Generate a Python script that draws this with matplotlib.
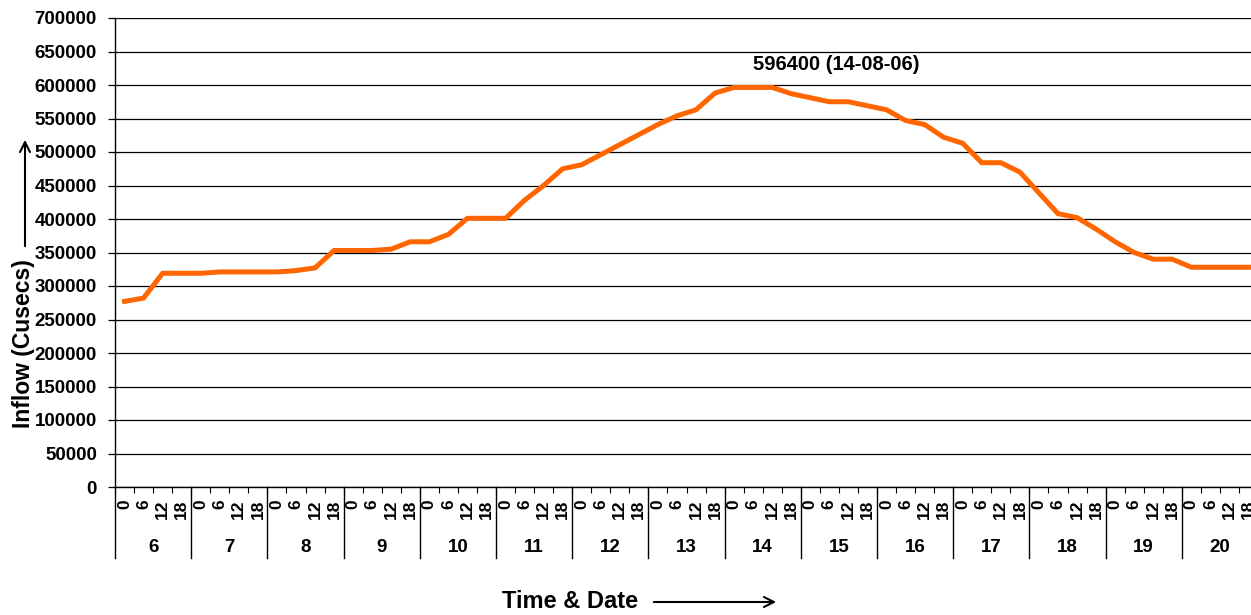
import numpy as np
import matplotlib.pyplot as plt

plt.rcParams['font.family'] = ['Liberation Sans', 'DejaVu Sans']
plt.rcParams['font.weight'] = 'bold'

# dates (Aug 2006) and hours of observation
days = [6, 7, 8, 9, 10, 11, 12, 13, 14, 15, 16, 17, 18, 19, 20]
hours = [0, 6, 12, 18]

# inflow in cusecs, one value every 6 hours
inflow = [
    277000, 282000, 319000, 319000,   # 6
    319000, 321000, 321000, 321000,   # 7
    321000, 323000, 327000, 353000,   # 8
    353000, 353000, 355000, 366000,   # 9
    366000, 377000, 401000, 401000,   # 10
    401000, 428000, 450000, 475000,   # 11
    481000, 496000, 511000, 526000,   # 12
    541000, 554000, 563000, 588000,   # 13
    596400, 596400, 596400, 587000,   # 14
    581000, 575000, 575000, 569000,   # 15
    563000, 547000, 541000, 522000,   # 16
    513000, 484000, 484000, 470000,   # 17
    439000, 408000, 402000, 385000,   # 18
    366000, 350000, 340000, 340000,   # 19
    328000, 328000, 328000, 328000,   # 20
]
peak_label = '596400 (14-08-06)'

fig = plt.figure(figsize=(12.51, 6.15), dpi=100)
W, H = 1251, 615
# plot area in pixels: left 115, right 1258 (clipped by the figure), top 18, bottom 487
ax = fig.add_axes([115 / W, 1 - 487 / H, 1143 / W, 469 / H])

n = len(inflow)
x = np.arange(n) + 0.5
ax.plot(x, inflow, color='#FF6600', lw=3.6, solid_joinstyle='miter')

ax.set_xlim(0, n)
ax.set_ylim(0, 700000)
ax.set_yticks(np.arange(0, 700001, 50000))
ax.yaxis.grid(True, color='black', lw=0.9)
ax.set_axisbelow(True)
ax.tick_params(axis='y', labelsize=13.5, length=5, width=0.9, pad=8)
for t in ax.get_yticklabels():
    t.set_fontweight('bold')

for s in ['top', 'right']:
    ax.spines[s].set_visible(False)
ax.spines['left'].set_linewidth(1.0)
ax.spines['bottom'].set_linewidth(1.0)

# category boundaries as small ticks, hour labels at centres
ax.set_xticks(np.arange(n + 1))
ax.set_xticklabels([])
ax.tick_params(axis='x', which='major', length=4, width=0.8)
ax.set_xticks(x, minor=True)
ax.set_xticklabels([str(h) for d in days for h in hours], minor=True,
                   rotation=90, fontsize=12.5, fontweight='bold')
ax.tick_params(axis='x', which='minor', length=0, pad=9)

# day separators and day labels
tr = ax.get_xaxis_transform()
for i in range(len(days) + 1):
    ax.plot([4 * i, 4 * i], [0, -0.151], color='black', lw=1.0,
            transform=tr, clip_on=False)
for i, d in enumerate(days):
    ax.text(4 * i + 2, -0.128, str(d), transform=tr, ha='center', va='center',
            fontsize=13.5, fontweight='bold')

# peak annotation
ax.text(37.85, 630000, peak_label, ha='center', va='center',
        fontsize=14.5, fontweight='bold')

# axis titles with arrows
fig.text(24 / W, 1 - 344 / H, 'Inflow (Cusecs)', rotation=90, ha='center',
         va='center', fontsize=16.5, fontweight='bold')
ax.annotate('', xy=(25 / W, 1 - 137 / H), xytext=(25 / W, 1 - 249 / H),
            xycoords='figure fraction', textcoords='figure fraction',
            arrowprops=dict(arrowstyle='->', color='black', lw=1.5,
                            mutation_scale=18))

fig.text(570 / W, 1 - 601 / H, 'Time & Date', ha='center', va='center',
         fontsize=17, fontweight='bold')
ax.annotate('', xy=(779 / W, 1 - 602 / H), xytext=(651 / W, 1 - 602 / H),
            xycoords='figure fraction', textcoords='figure fraction',
            arrowprops=dict(arrowstyle='->', color='black', lw=1.5,
                            mutation_scale=18))

fig.savefig('out.png', dpi=100)
